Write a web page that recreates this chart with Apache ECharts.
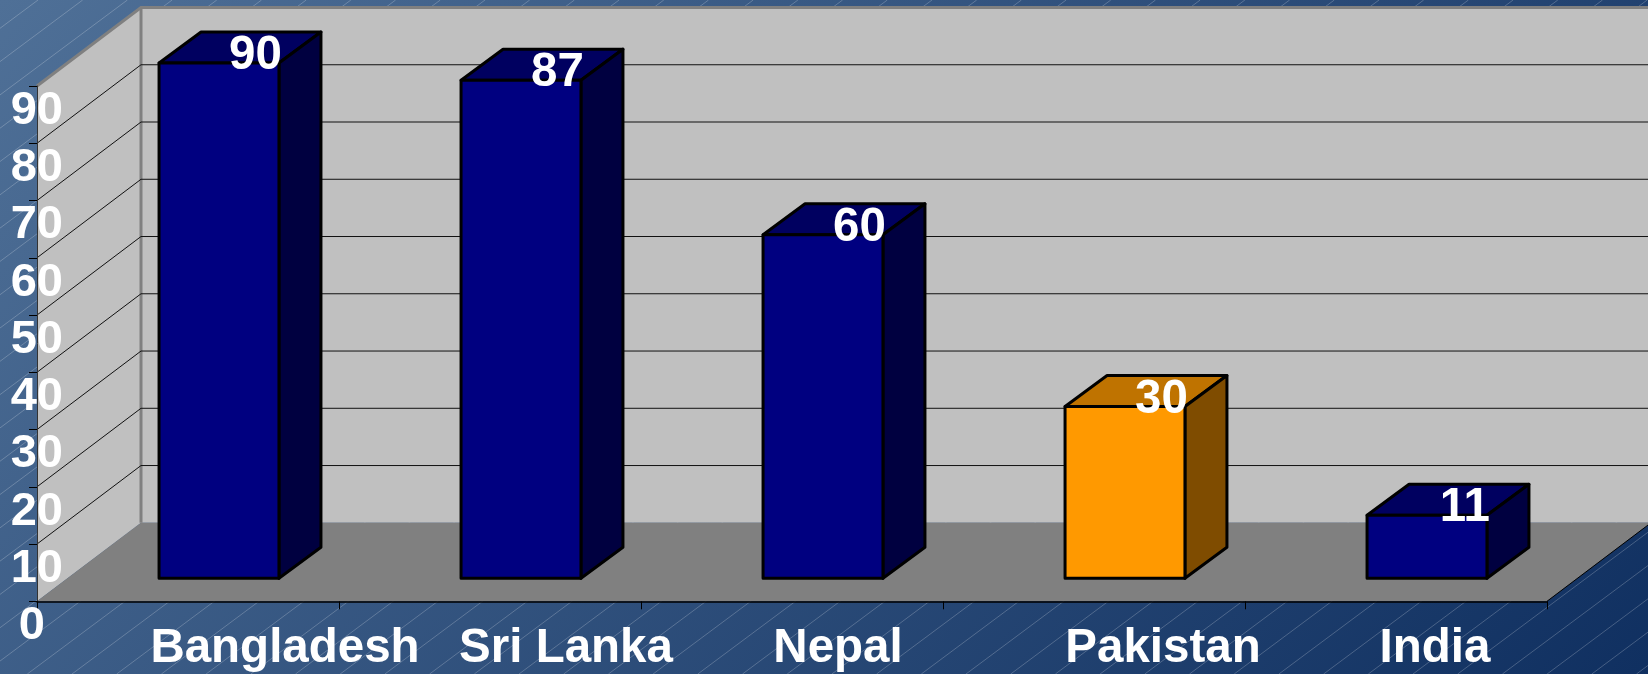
<!DOCTYPE html>
<html>
<head>
<meta charset="utf-8">
<style>
  html, body { margin: 0; padding: 0; background: #2a4a78; }
  #chart { width: 1648px; height: 674px; }
</style>
<script src="https://cdn.jsdelivr.net/npm/echarts@6/dist/echarts.min.js"></script>
</head>
<body>
<div id="chart"></div>
<script>
const categories = ['Bangladesh', 'Sri Lanka', 'Nepal', 'Pakistan', 'India']
const barValues = [90, 87, 60, 30, 11]
const gridTicks = [10, 20, 30, 40, 50, 60, 70, 80, 90]

const FONT = '"Liberation Sans", Arial, sans-serif'
const LABEL_FONT = 'bold 47.5px ' + FONT
const DEPTH_X = 104   // how far the back wall sits from the axis plane
const DEPTH_Y = 78.5
const HIGHLIGHT = 'Pakistan'

const blue = { front: '#000080', top: '#000060', side: '#000040' }
const orange = { front: '#ff9900', top: '#bf7300', side: '#7f4c00' }

// the category labels sit off-centre in the original slide
const labelShift = [97, 76, 46, 69, 39]

function poly(points, fill, stroke, width) {
  return {
    type: 'polygon',
    shape: { points: points },
    style: { fill: fill, stroke: stroke, lineWidth: width, lineJoin: 'round' }
  }
}

function line(points, stroke, width) {
  return {
    type: 'polyline',
    shape: { points: points },
    style: { fill: null, stroke: stroke, lineWidth: width }
  }
}

function renderWalls(params, api) {
  const c = params.coordSys
  const l = c.x, r = c.x + c.width, t = c.y, b = c.y + c.height
  const bx = l + DEPTH_X
  const rb = r + DEPTH_X
  return {
    type: 'group',
    children: [
      poly([[l, t], [bx, t - DEPTH_Y], [bx, b - DEPTH_Y], [l, b]], '#c0c0c0', null, 0),
      poly([[bx, t - DEPTH_Y], [rb, t - DEPTH_Y], [rb, b - DEPTH_Y], [bx, b - DEPTH_Y]], '#c0c0c0', null, 0),
      poly([[l, b], [bx, b - DEPTH_Y], [rb, b - DEPTH_Y], [r, b]], '#808080', null, 0),
      line([[r, b], [rb, b - DEPTH_Y]], '#000', 1),
      line([[l, t], [bx, t - DEPTH_Y], [rb, t - DEPTH_Y]], '#808080', 3),
      line([[bx, t - DEPTH_Y], [bx, b - DEPTH_Y]], '#808080', 3)
    ]
  }
}

function renderGrid(params, api) {
  const c = params.coordSys
  const y = api.coord([0, api.value(1)])[1]
  const bx = c.x + DEPTH_X
  return line([[c.x, y], [bx, y - DEPTH_Y], [c.x + c.width + DEPTH_X, y - DEPTH_Y]], '#111', 1)
}

function renderBar(params, api) {
  const i = api.value(0)
  const pt = api.coord([i, api.value(1)])
  const zero = api.coord([i, 0])
  const band = api.size([1, 0])[0]
  const w = band * 0.397
  const dx = 42, dy = 31
  const left = pt[0] + 31 - w / 2
  const right = left + w
  const top = pt[1] - 23
  const base = zero[1] - 23
  const col = categories[i] === HIGHLIGHT ? orange : blue
  return {
    type: 'group',
    children: [
      poly([[left, top], [left + dx, top - dy], [right + dx, top - dy], [right, top]], col.top, '#000', 3),
      poly([[right, top], [right + dx, top - dy], [right + dx, base - dy], [right, base]], col.side, '#000', 3),
      poly([[left, top], [right, top], [right, base], [left, base]], col.front, '#000', 3),
      {
        type: 'text',
        style: {
          text: String(api.value(1)),
          x: right + 3,
          y: top - 7,
          align: 'right',
          verticalAlign: 'middle',
          fill: '#fff',
          font: LABEL_FONT
        }
      }
    ]
  }
}

// background hatching
const hatch = []
for (let k = 0; k < 60; k++) {
  const x0 = 38 + 44.7 * k
  hatch.push({
    type: 'line',
    z: -1,
    silent: true,
    shape: { x1: x0, y1: 0, x2: x0 - 674 / 0.745, y2: 674 },
    style: { stroke: 'rgba(255,255,255,0.22)', lineWidth: 1 }
  })
}

const chart = echarts.init(document.getElementById('chart'), null, { renderer: 'canvas' })
chart.setOption({
  animation: false,
  backgroundColor: {
    type: 'linear', x: 0, y: 0, x2: 0.75, y2: 1.7,
    colorStops: [
      { offset: 0, color: '#4f7097' },
      { offset: 1, color: '#0f2f60' }
    ]
  },
  graphic: hatch,
  grid: { left: 37, top: 86, width: 1510, height: 515.3, containLabel: false },
  xAxis: {
    type: 'category',
    z: 5,
    data: categories.map((name, i) => ({
      value: name,
      textStyle: { padding: [0, 0, 0, labelShift[i] * 2] }
    })),
    axisLine: { lineStyle: { color: '#000', width: 1.5 } },
    axisTick: { show: true, length: 8, alignWithLabel: false, lineStyle: { color: '#000', width: 1 } },
    axisLabel: {
      interval: 0,
      margin: 24,
      color: '#fff',
      fontFamily: FONT,
      fontWeight: 'bold',
      fontSize: 47.5
    }
  },
  yAxis: {
    type: 'value',
    z: 5,
    min: 0,
    max: 90,
    interval: 10,
    splitLine: { show: false },
    axisLine: { show: true, lineStyle: { color: '#333', width: 1 } },
    axisTick: { show: true, length: 8, lineStyle: { color: '#000', width: 1 } },
    axisLabel: {
      margin: -26,
      color: '#fff',
      fontFamily: FONT,
      fontWeight: 'bold',
      fontSize: 47,
      lineHeight: 50,
      verticalAlign: 'top',
      formatter: v => (v === 0 ? '{zero|0}' : String(v)),
      rich: {
        zero: {
          color: '#fff',
          fontFamily: FONT,
          fontWeight: 'bold',
          fontSize: 47,
          lineHeight: 50,
          padding: [0, 18, 0, 0]
        }
      }
    }
  },
  series: [
    {
      type: 'custom',
      name: 'walls',
      z: 1,
      silent: true,
      clip: false,
      data: [[0, 0]],
      renderItem: renderWalls
    },
    {
      type: 'custom',
      name: 'grid',
      z: 2,
      silent: true,
      clip: false,
      data: gridTicks.slice(0, -1).map(v => [0, v]),
      renderItem: renderGrid
    },
    {
      type: 'custom',
      name: 'bars',
      z: 3,
      clip: false,
      data: barValues.map((v, i) => [i, v]),
      renderItem: renderBar
    }
  ]
})
</script>
</body>
</html>
